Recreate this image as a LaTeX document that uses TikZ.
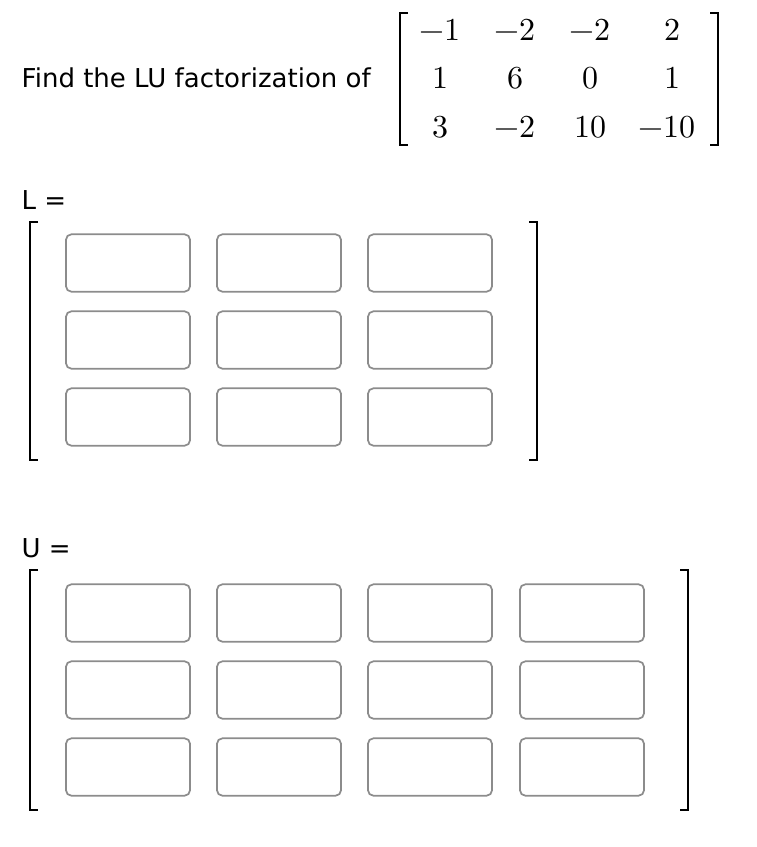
\documentclass[tikz,border=0pt]{standalone}
\usepackage{fontspec}
\setmainfont{DejaVu Sans}
\usepackage{amsmath}
\usepackage{unicode-math}
\setmathfont{Latin Modern Math}
\begin{document}
\begin{tikzpicture}[x=0.75pt,y=-0.75pt]

\tikzset{
	answerbox/.style={draw=gray!90,line width=1.3pt,rounded corners=4pt,minimum width=93pt,minimum height=43pt,inner sep=0pt},
	bracket/.style={line width=1pt},
	entry/.style={font=\fontsize{24}{28}\selectfont},
	label/.style={anchor=west,font=\fontsize{19.5}{23}\selectfont}
}

\useasboundingbox (0,0) rectangle (757,847);

% given matrix
\node[label] (question) at (17,78) {Find the LU factorization of};
\draw[bracket] (408,13)--(400,13)--(400,145)--(408,145);
\draw[bracket] (710,13)--(718,13)--(718,145)--(710,145);
\foreach \r/\y in {1/30,2/78,3/127}{
	\foreach \c/\x in {1/440,2/515,3/590,4/672}{
		\coordinate (m\r\c) at (\x,\y);
	}
}
\node[entry] at (m11) {$-1$};
\node[entry] at (m12) {$-2$};
\node[entry] at (m13) {$-2$};
\node[entry] at (m14) {$2$};
\node[entry] at (m21) {$1$};
\node[entry] at (m22) {$6$};
\node[entry] at (m23) {$0$};
\node[entry] at (m24) {$1$};
\node[entry] at (m31) {$3$};
\node[entry] at (m32) {$-2$};
\node[entry] at (m33) {$10$};
\node[entry,xshift=-4pt] at (m34) {$-10$};

% L
\node[label] (lname) at (17,200) {L =};
\draw[bracket] (38,222)--(30,222)--(30,460)--(38,460);
\draw[bracket] (529,222)--(537,222)--(537,460)--(529,460);
\foreach \r/\y in {1/263,2/340,3/417}{
	\foreach \c/\x in {1/128,2/279,3/430}{
		\node[answerbox] (l\r\c) at (\x,\y) {};
	}
}

% U
\node[label] (uname) at (17,548) {U =};
\draw[bracket] (38,570)--(30,570)--(30,810)--(38,810);
\draw[bracket] (680,570)--(688,570)--(688,810)--(680,810);
\foreach \r/\y in {1/613,2/690,3/767}{
	\foreach \c/\x in {1/128,2/279,3/430,4/582}{
		\node[answerbox] (u\r\c) at (\x,\y) {};
	}
}

\end{tikzpicture}
\end{document}
